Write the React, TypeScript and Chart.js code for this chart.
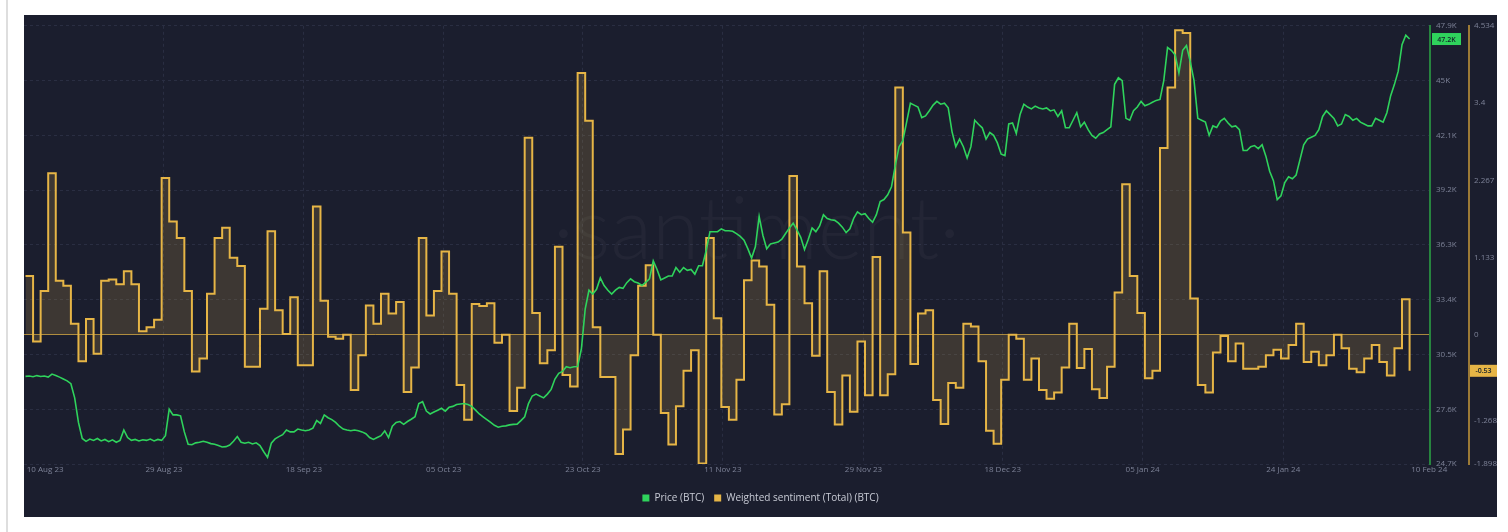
import React, { useEffect, useRef } from 'react';
import { Chart, registerables } from 'chart.js';

Chart.register(...registerables);

// x axis: day offsets from 10 Aug 2023
const xTickDays = [2.6, 18.3, 36.8, 55.3, 73.7, 92.2, 110.8, 129.2, 147.7, 166.3, 185.6];
const xTickLabels = ['10 Aug 23', '29 Aug 23', '18 Sep 23', '05 Oct 23', '23 Oct 23', '11 Nov 23', '29 Nov 23', '18 Dec 23', '05 Jan 24', '24 Jan 24', '10 Feb 24'];

const priceTicks = [24.7, 27.6, 30.5, 33.4, 36.3, 39.2, 42.1, 45.0, 47.9];
const priceTickLabels = ['24.7K', '27.6K', '30.5K', '33.4K', '36.3K', '39.2K', '42.1K', '45K', '47.9K'];

const sentimentTicks = [-1.898, -1.268, 0, 1.133, 2.267, 3.4, 4.534];
const sentimentTickLabels = ['-1.898', '-1.268', '0', '1.133', '2.267', '3.4', '4.534'];

const seriesNames = ['Price (BTC)', 'Weighted sentiment (Total) (BTC)'];

// BTC price, thousands of USD, one value every half day
const priceHalfDaily = [
  29.34, 29.36, 29.32, 29.38, 29.33, 29.36, 29.30, 29.46, 29.38, 29.30,
  29.20, 29.10, 28.95, 28.2, 26.9, 26.05, 25.90, 26.02, 25.95, 26.05,
  25.92, 26.0, 25.88, 25.98, 25.85, 25.95, 26.5, 26.1, 25.95, 26.0,
  25.92, 25.98, 25.95, 26.02, 25.92, 26.0, 25.95, 26.2, 27.6, 27.3,
  27.3, 27.25, 26.4, 25.75, 25.72, 25.82, 25.85, 25.9, 25.85, 25.78,
  25.75, 25.68, 25.6, 25.62, 25.7, 25.9, 26.15, 25.85, 25.8, 25.85,
  25.76, 25.82, 25.68, 25.35, 25.05, 25.8, 26.03, 26.15, 26.25, 26.5,
  26.4, 26.4, 26.55, 26.5, 26.46, 26.5, 26.6, 27.0, 26.85, 27.3,
  27.15, 27.05, 26.9, 26.7, 26.55, 26.5, 26.46, 26.5, 26.46, 26.4,
  26.3, 26.1, 26.0, 26.1, 26.2, 26.45, 26.1, 26.7, 26.9, 26.95,
  26.8, 26.95, 27.07, 27.2, 27.9, 28.0, 27.5, 27.35, 27.45, 27.55,
  27.65, 27.5, 27.7, 27.75, 27.85, 27.88, 27.9, 27.85, 27.75, 27.55,
  27.35, 27.2, 27.05, 26.9, 26.75, 26.65, 26.7, 26.72, 26.77, 26.8,
  26.81, 27.0, 27.2, 27.9, 28.3, 28.4, 28.3, 28.2, 28.4, 28.65,
  29.2, 29.5, 29.6, 29.85, 29.8, 29.85, 29.86, 30.8, 32.9, 33.9,
  33.7, 33.95, 34.55, 34.15, 33.9, 33.7, 33.9, 34.05, 34.0, 34.3,
  34.5, 34.35, 34.28, 34.15, 34.32, 34.5, 35.45, 35.0, 34.45, 34.55,
  34.65, 34.65, 35.1, 34.85, 35.1, 34.95, 35.0, 34.75, 35.2, 35.2,
  36.0, 37.0, 37.0, 37.0, 37.15, 37.05, 37.05, 37.02, 36.9, 36.75,
  36.55, 36.1, 35.6, 36.2, 37.8, 36.8, 36.1, 36.35, 36.4, 36.45,
  36.6, 36.9, 37.2, 37.45, 37.1, 36.7, 36.06, 36.6, 37.2, 37.0,
  37.3, 37.9, 37.7, 37.63, 37.6, 37.45, 37.24, 36.95, 37.15, 37.7,
  38.05, 37.9, 37.95, 37.7, 37.5, 37.9, 38.6, 38.7, 38.95, 39.38,
  40.5, 41.5, 41.82, 42.8, 43.8, 43.7, 43.6, 43.04, 43.13, 43.4,
  43.7, 43.9, 43.75, 43.8, 43.56, 42.3, 41.5, 41.9, 41.5, 40.9,
  41.5, 42.9, 42.69, 42.5, 41.9, 42.25, 42.1, 41.7, 41.1, 41.03,
  42.7, 42.75, 42.2, 43.2, 43.75, 43.6, 43.5, 43.65, 43.55, 43.5,
  43.55, 43.39, 43.45, 43.1, 43.4, 42.5, 42.5, 42.9, 43.3, 42.55,
  42.8, 42.4, 42.1, 41.95, 42.17, 42.25, 42.4, 42.55, 44.8, 45.15,
  45.0, 43.0, 42.9, 43.4, 43.6, 43.9, 43.67, 43.74, 43.85, 43.95,
  44.0, 45.0, 46.75, 46.6, 46.36, 45.4, 46.6, 46.85, 46.0, 45.0,
  43.0, 42.9, 42.8, 42.1, 42.6, 42.52, 42.86, 43.0, 42.75, 42.55,
  42.6, 42.4, 41.3, 41.3, 41.5, 41.56, 41.4, 41.6, 41.0, 40.2,
  39.7, 38.7, 38.9, 39.6, 39.9, 39.8, 40.0, 40.8, 41.6, 41.9,
  42.0, 42.1, 42.4, 43.1, 43.4, 43.2, 43.0, 42.6, 42.7, 43.2,
  43.1, 42.9, 43.0, 42.8, 42.7, 42.6, 42.6, 43.0, 42.9, 42.8,
  43.3, 44.2, 44.8, 45.5, 46.9, 47.4, 47.2,
];

// Weighted sentiment (Total), one value per day
const sentiment = [
  0.86, -0.10, 0.64, 2.37, 0.79, 0.72, 0.16, -0.39, 0.23, -0.28,
  0.79, 0.81, 0.74, 0.93, 0.74, 0.05, 0.11, 0.22, 2.30, 1.66,
  1.42, 0.64, -0.54, -0.35, 0.60, 1.42, 1.57, 1.13, 1.01, -0.47,
  -0.47, 0.38, 1.52, 0.36, 0.01, 0.55, -0.45, -0.45, 1.88, 0.50,
  -0.03, -0.06, 0.00, -0.81, -0.30, 0.43, 0.16, 0.60, 0.31, 0.48,
  -0.84, -0.48, 1.42, 0.28, 0.64, 1.22, 0.60, -0.74, -1.25, 0.45,
  0.42, 0.46, -0.12, 0.00, -1.12, -0.78, 2.89, 0.32, -0.42, -0.23,
  1.29, -0.59, -0.76, 3.84, 3.14, 0.11, -0.62, -0.62, -1.75, -1.39,
  -0.30, 0.72, 1.02, 0.00, -1.15, -1.61, -1.05, -0.53, -0.23, -1.89,
  1.42, 0.24, -1.06, -1.25, -0.66, 0.80, 1.09, 1.00, 0.44, -1.17,
  -1.02, 2.33, 1.00, 0.46, -0.31, 0.93, -0.84, -1.32, -0.60, -1.13,
  -0.10, -0.89, 1.14, -0.89, -0.58, 3.63, 1.50, -0.43, 0.31, 0.36,
  -0.96, -1.31, -0.71, -0.78, 0.16, 0.12, -0.39, -1.41, -1.60, -0.66,
  0.00, -0.06, -0.66, -0.35, -0.81, -0.94, -0.85, -0.48, 0.16, -0.49,
  -0.21, -0.80, -0.93, -0.47, 0.62, 2.21, 0.86, 0.32, -0.64, -0.53,
  2.74, 3.63, 4.47, 4.43, 0.53, -0.74, -0.85, -0.26, -0.02, -0.39,
  -0.13, -0.50, -0.50, -0.47, -0.30, -0.22, -0.35, -0.15, 0.16, -0.40,
  -0.25, -0.45, -0.30, 0.00, -0.20, -0.50, -0.55, -0.35, -0.15, -0.40,
  -0.60, -0.20, 0.52, -0.53,
];

const GREEN = '#2fd35c';
const YELLOW = '#e6b546';
const BG = '#1b1e2e';
const GRID = '#2a2e42';
const TICK = '#7d8297';
const FONT = "'Open Sans', sans-serif";

const watermark = {
  id: 'watermark',
  beforeDatasetsDraw(chart: any) {
    const { ctx, chartArea } = chart;
    ctx.save();
    ctx.font = `300 86px Lato, ${FONT}`;
    ctx.fillStyle = 'rgba(255,255,255,0.035)';
    ctx.textAlign = 'center';
    ctx.textBaseline = 'middle';
    ctx.fillText('·santiment·', chart.width / 2 - 4, chartArea.top + chartArea.height * 0.47);
    ctx.restore();
  },
};

const badges = {
  id: 'badges',
  afterDraw(chart: any) {
    const { ctx } = chart;
    const ys = chart.scales.y;
    const ys1 = chart.scales.y1;
    const lastP = priceHalfDaily[priceHalfDaily.length - 1];
    const lastS = sentiment[sentiment.length - 1];
    const draw = (left: number, w: number, yPix: number, bg: string, text: string) => {
      ctx.save();
      ctx.fillStyle = bg;
      ctx.fillRect(left, yPix - 6, w, 12);
      ctx.fillStyle = '#15202a';
      ctx.font = `600 7px ${FONT}`;
      ctx.textAlign = 'center';
      ctx.textBaseline = 'middle';
      ctx.fillText(text, left + w / 2, yPix + 0.5);
      ctx.restore();
    };
    draw(ys.left + 2, 29, ys.getPixelForValue(lastP), GREEN, lastP.toFixed(1) + 'K');
    draw(ys1.left + 1, 27, ys1.getPixelForValue(lastS), YELLOW, lastS.toFixed(2));
  },
};

export default function App() {
  const ref = useRef<HTMLCanvasElement | null>(null);

  useEffect(() => {
    if (!ref.current) return;
    const chart = new Chart(ref.current, {
      type: 'line',
      data: {
        datasets: [
          {
            label: seriesNames[0],
            data: priceHalfDaily.map((v, i) => ({ x: i / 2, y: v })),
            yAxisID: 'y',
            borderColor: GREEN,
            backgroundColor: GREEN,
            borderWidth: 1.6,
            pointRadius: 0,
            tension: 0,
            fill: false,
          },
          {
            label: seriesNames[1],
            data: sentiment.map((v, i) => ({ x: i, y: v })),
            yAxisID: 'y1',
            borderColor: YELLOW,
            backgroundColor: 'rgba(232,186,80,0.17)',
            borderWidth: 2,
            pointRadius: 0,
            stepped: true,
            fill: 'origin',
          },
        ],
      },
      options: {
        responsive: false,
        animation: false,
        layout: { padding: { left: 0, right: 0, top: 0, bottom: 4 } },
        plugins: {
          tooltip: { enabled: false },
          legend: {
            position: 'bottom',
            labels: {
              color: '#c9ccd6',
              font: { family: FONT, size: 10 },
              boxWidth: 7,
              boxHeight: 7,
              padding: 10,
              generateLabels: (c: any) =>
                Chart.defaults.plugins.legend.labels.generateLabels(c).map((l: any, i: number) => ({
                  ...l,
                  fillStyle: i === 0 ? GREEN : YELLOW,
                  strokeStyle: i === 0 ? GREEN : YELLOW,
                  lineWidth: 0,
                })),
            },
          },
        },
        scales: {
          x: {
            type: 'linear',
            min: -0.2,
            max: 185.7,
            afterBuildTicks: (s: any) => {
              s.ticks = xTickDays.map((v) => ({ value: v }));
            },
            afterFit: (s: any) => {
              s.height = 19;
            },
            ticks: {
              autoSkip: false,
              maxRotation: 0,
              padding: 1,
              color: TICK,
              font: { family: FONT, size: 8 },
              callback: (_v: any, i: number) => xTickLabels[i],
            },
            grid: {
              drawTicks: false,
              color: (c: any) => (c.index === 0 ? 'transparent' : GRID),
            },
            border: { display: false, dash: [3, 3] },
          },
          y: {
            type: 'linear',
            position: 'right',
            min: 24.7,
            max: 47.9,
            afterBuildTicks: (s: any) => {
              s.ticks = priceTicks.map((v) => ({ value: v }));
            },
            afterFit: (s: any) => {
              s.width = 39;
            },
            ticks: {
              autoSkip: false,
              padding: 6,
              color: TICK,
              font: { family: FONT, size: 8 },
              callback: (_v: any, i: number) => priceTickLabels[i],
            },
            grid: { drawTicks: false, color: GRID },
            border: { display: true, color: '#27843f', width: 2, dash: [3, 3] },
          },
          y1: {
            type: 'linear',
            position: 'right',
            min: -1.898,
            max: 4.534,
            afterBuildTicks: (s: any) => {
              s.ticks = sentimentTicks.map((v) => ({ value: v }));
            },
            afterFit: (s: any) => {
              s.width = 28;
            },
            ticks: {
              autoSkip: false,
              padding: 5,
              color: TICK,
              font: { family: FONT, size: 8 },
              callback: (_v: any, i: number) => sentimentTickLabels[i],
            },
            grid: {
              drawTicks: false,
              color: (c: any) => (c.tick && c.tick.value === 0 ? 'rgba(230,181,70,0.7)' : 'transparent'),
              lineWidth: 1,
            },
            border: { display: true, color: '#9c7a36', width: 2 },
          },
        },
      },
      plugins: [watermark, badges],
    } as any);
    return () => chart.destroy();
  }, []);

  return (
    <div style={{ position: 'fixed', left: 0, top: 0, width: 1508, height: 532, background: '#ffffff' }}>
      <div style={{ position: 'absolute', left: 6, top: 0, width: 2, height: 532, background: '#dedede' }} />
      <div style={{ position: 'absolute', left: 24, top: 15, width: 1473, height: 502, background: BG }}>
        <canvas ref={ref} width={1473} height={502} style={{ display: 'block' }} />
      </div>
    </div>
  );
}
